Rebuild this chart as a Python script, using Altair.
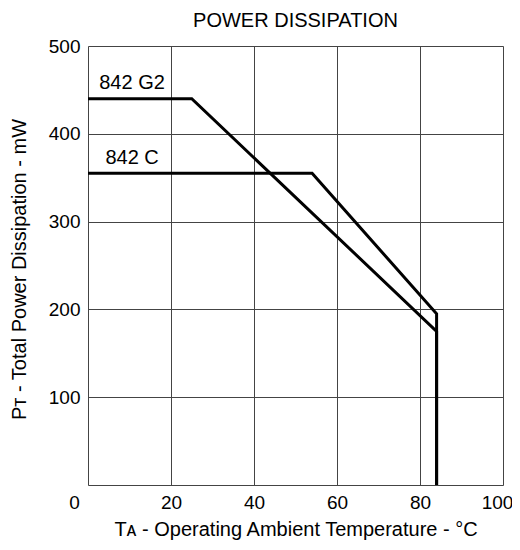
import altair as alt
import pandas as pd

# Data
g2_temp = [0, 25, 84, 84]
g2_power = [440, 440, 175, 0]
c_temp = [0, 54, 84, 84]
c_power = [355, 355, 195, 0]

label_text = ["842 G2", "842 C"]
label_temp = [2.7, 4.2]
label_power = [458, 372]

x_ticks = [0, 20, 40, 60, 80, 100]
y_ticks = [0, 100, 200, 300, 400, 500]

rows = []
for i, (t, p) in enumerate(zip(g2_temp, g2_power)):
    rows.append({"series": "842 G2", "temp": t, "power": p, "order": i})
for i, (t, p) in enumerate(zip(c_temp, c_power)):
    rows.append({"series": "842 C", "temp": t, "power": p, "order": i})
lines_df = pd.DataFrame(rows)
labels_df = pd.DataFrame({"text": label_text, "temp": label_temp, "power": label_power})

FONT = "Liberation Sans"

x_enc = alt.X(
    "temp:Q",
    scale=alt.Scale(domain=[0, 100], nice=False),
    axis=alt.Axis(
        values=x_ticks,
        title="Tᴀ - Operating Ambient Temperature - °C",
        titleFont=FONT,
        titleFontSize=20,
        titleFontWeight="normal",
        titleColor="black",
        titleBaseline="middle",
        titleY=44,
        labelFont=FONT,
        labelFontSize=19,
        labelColor="black",
        labelPadding=8,
        labelFlush=False,
        labelOffset={"condition": [
            {"test": "datum.value === 0", "value": -14},
            {"test": "datum.value === 100", "value": -6},
        ], "value": 0},
        ticks=False,
        domain=False,
        grid=True,
        gridColor="#444444",
        gridWidth=1,
    ),
)
y_enc = alt.Y(
    "power:Q",
    scale=alt.Scale(domain=[0, 500], nice=False),
    axis=alt.Axis(
        values=y_ticks,
        title="Pᴛ - Total Power Dissipation - mW",
        titleFont=FONT,
        titleFontSize=20,
        titleFontWeight="normal",
        titleColor="black",
        titleBaseline="middle",
        titleX=-69,
        titleY=223,
        labelFont=FONT,
        labelFontSize=19,
        labelColor="black",
        labelPadding=8,
        labelFlush=False,
        labelExpr="datum.value === 0 ? '' : datum.label",
        ticks=False,
        domain=False,
        grid=True,
        gridColor="#444444",
        gridWidth=1,
    ),
)

lines = alt.Chart(lines_df).mark_line(color="black", strokeWidth=3, strokeJoin="miter").encode(
    x=x_enc,
    y=y_enc,
    detail="series:N",
    order="order:Q",
)

labels = alt.Chart(labels_df).mark_text(
    align="left", baseline="middle", font=FONT, fontSize=20, color="black"
).encode(
    x=alt.X("temp:Q"),
    y=alt.Y("power:Q"),
    text="text:N",
)

chart = (
    alt.layer(lines, labels)
    .properties(
        width=415,
        height=439,
        title=alt.TitleParams(
            "POWER DISSIPATION",
            font=FONT,
            fontSize=20,
            fontWeight="normal",
            color="black",
            anchor="middle",
            offset=6,
        ),
        autosize=alt.AutoSizeParams(type="none"),
        padding={"left": 80, "top": 38, "right": 9, "bottom": 57},
    )
    .configure_view(stroke="black", strokeWidth=2)
    .configure(background="white")
)

chart.save("out.html", embed_options={"renderer": "svg", "actions": False})
